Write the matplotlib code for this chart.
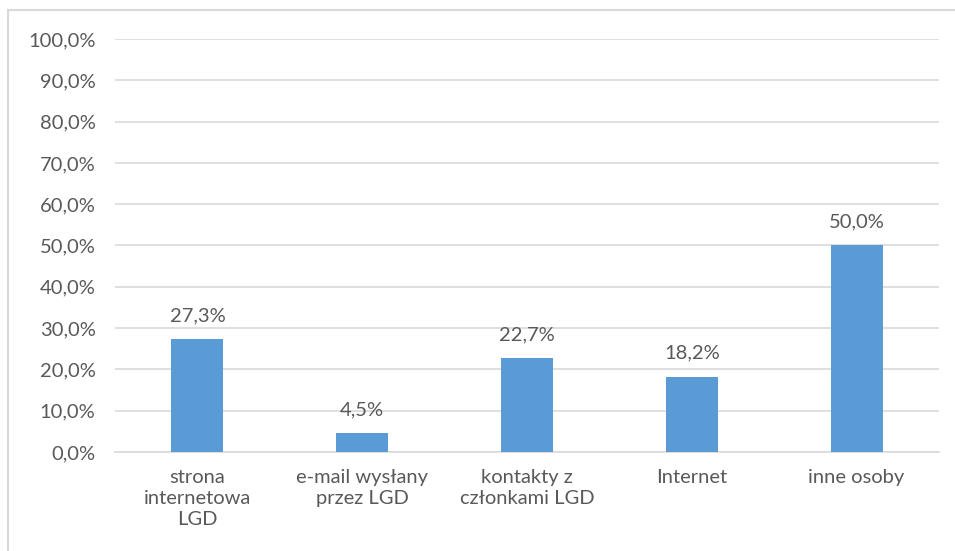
import matplotlib.pyplot as plt
from matplotlib.patches import Rectangle
from matplotlib.ticker import FuncFormatter

categories = ['strona\ninternetowa\nLGD', 'e-mail wysłany\nprzez LGD', 'kontakty z\nczłonkami LGD', 'Internet', 'inne osoby']
values = [27.3, 4.5, 22.7, 18.2, 50.0]

plt.rcParams['font.family'] = ['Lato', 'DejaVu Sans']
txt = '#595959'
fs = 14.5

fig = plt.figure(figsize=(9.55, 5.51), dpi=100)
ax = fig.add_axes([0.1204, 0.1797, 0.8628, 0.7495])

x = range(len(values))
ax.bar(x, values, width=0.315, color='#5B9BD5', zorder=3)
for xi, v in zip(x, values):
    ax.annotate(f'{v:.1f}%'.replace('.', ','), (xi, v), xytext=(0, 11), textcoords='offset points',
                ha='center', va='bottom', fontsize=fs, color=txt)

ax.set_xlim(-0.5, len(values) - 0.5)
ax.set_ylim(0, 100)
ax.set_yticks(range(0, 101, 10))
ax.yaxis.set_major_formatter(FuncFormatter(lambda v, p: f'{v:.1f}%'.replace('.', ',')))
ax.set_xticks(list(x))
ax.set_xticklabels(categories, fontsize=fs, color=txt, linespacing=1.3)
ax.tick_params(axis='y', labelsize=fs, colors=txt, length=0, pad=14)
ax.tick_params(axis='x', length=0, pad=12)
ax.grid(axis='y', color='#D9D9D9', linewidth=1.2, zorder=0)
for s in ['top', 'right', 'left']:
    ax.spines[s].set_visible(False)
ax.spines['bottom'].set_color('#D9D9D9')
ax.spines['bottom'].set_linewidth(1.2)

fig.patches.append(Rectangle((0.0084, -0.05), 1.1, 0.9819 + 0.05, transform=fig.transFigure,
                             fill=False, edgecolor='#D9D9D9', linewidth=1.5))

fig.savefig('out.png', dpi=100)
